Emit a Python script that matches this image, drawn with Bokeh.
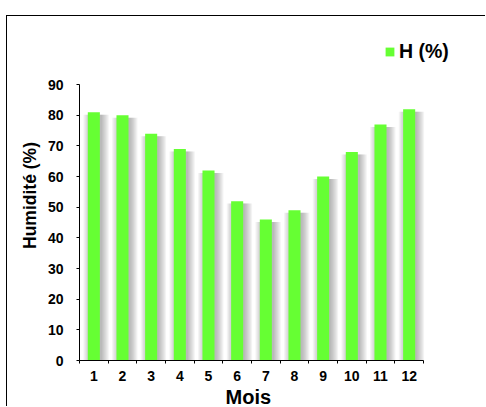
from bokeh.plotting import figure
from bokeh.models import Range1d, FixedTicker, Legend, LegendItem, ColumnDataSource, Title
from bokeh.embed import file_html
from bokeh.resources import INLINE

# Data
months = [1, 2, 3, 4, 5, 6, 7, 8, 9, 10, 11, 12]
month_labels = ["1", "2", "3", "4", "5", "6", "7", "8", "9", "10", "11", "12"]
humidity = [81, 80, 74, 69, 62, 52, 46, 49, 60, 68, 77, 82]
y_ticks = [0, 10, 20, 30, 40, 50, 60, 70, 80, 90]
series_name = "H (%)"
x_title = "Mois"
y_title = "Humidité (%)"

FONT = "Liberation Sans"
GREEN = "#66FF33"

# layout (pixels): axes span 344 x 275 px; frame is larger to host the legend
AX_W, AX_H = 344, 275
FR_W, FR_H = 391, 329
x_lo, x_hi = 0.5, 12.5
y_lo, y_hi = 0, 90
x_max = x_lo + (x_hi - x_lo) * FR_W / AX_W
y_max = y_lo + (y_hi - y_lo) * FR_H / AX_H

src = ColumnDataSource(dict(x=months, top=humidity))

p = figure(width=479, height=391, output_backend="svg", toolbar_location=None,
           x_range=Range1d(x_lo, x_max), y_range=Range1d(y_lo, y_max),
           min_border_left=72, min_border_right=16, min_border_top=14, min_border_bottom=47)
p.margin = (16, 0, 0, 7)
p.styles = {"box-shadow": "-1px -1px 0 0 #000"}
p.outline_line_color = None
p.xgrid.visible = False
p.ygrid.visible = False
p.background_fill_color = "white"
p.border_fill_color = "white"

# shadows
shadow_x = [m + 0.08 for m in months]
shadow_top = [h - 0.8 for h in humidity]
for k in range(7):
    p.vbar(x=shadow_x, top=shadow_top, bottom=0, width=0.40 + k * 0.08,
           fill_color="#666666", fill_alpha=0.08, line_color=None)

bars = p.vbar(x="x", top="top", bottom=0, width=0.42, source=src,
              fill_color=GREEN, line_color=None)

# axes
p.xaxis.bounds = (x_lo, x_hi)
p.xaxis.ticker = FixedTicker(ticks=months, minor_ticks=[m - 0.5 for m in months] + [12.5])
p.xaxis.major_label_overrides = {m: l for m, l in zip(months, month_labels)}
p.xaxis.major_tick_out = 0
p.xaxis.major_tick_in = 0
p.xaxis.minor_tick_out = 3
p.xaxis.minor_tick_in = 0
p.xaxis.major_label_standoff = 7

p.yaxis.bounds = (y_lo, y_hi)
p.yaxis.ticker = FixedTicker(ticks=y_ticks, minor_ticks=[])
p.yaxis.major_tick_out = 3
p.yaxis.major_tick_in = 0
p.yaxis.minor_tick_out = 0
p.yaxis.major_label_standoff = 13

for ax in (p.xaxis[0], p.yaxis[0]):
    ax.major_label_text_font = FONT
    ax.major_label_text_font_style = "bold"
    ax.major_label_text_font_size = "14px"
    ax.major_label_text_color = "black"
    ax.axis_line_color = "black"
    ax.major_tick_line_color = "black"
    ax.minor_tick_line_color = "black"

xtitle = Title(text=x_title, align="left", offset=146, standoff=0,
               text_font=FONT, text_font_style="bold", text_font_size="20px",
               text_color="black")
p.add_layout(xtitle, "below")

ytitle = Title(text=y_title, align="center", offset=-12, standoff=9,
               text_font=FONT, text_font_style="bold", text_font_size="17.5px",
               text_color="black")
p.add_layout(ytitle, "left")

legend = Legend(items=[LegendItem(label=series_name, renderers=[bars])],
                location=(305, 297), orientation="horizontal",
                padding=0, margin=0, spacing=0, glyph_width=11, glyph_height=11,
                label_standoff=4, border_line_color=None, background_fill_alpha=0,
                label_text_font=FONT, label_text_font_style="bold", label_text_font_size="19.5px",
                label_text_color="black")
p.add_layout(legend, "center")

open("out.html", "w").write(file_html(p, INLINE))
